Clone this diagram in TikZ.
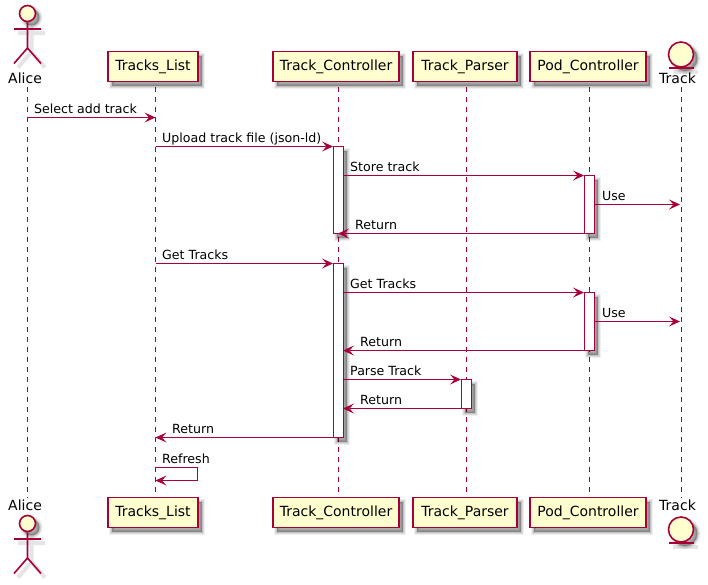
\documentclass[tikz,border=0pt]{standalone}
\usepackage{fontspec}
\setmainfont{DejaVu Sans}
\usetikzlibrary{arrows.meta}
\definecolor{pline}{HTML}{A80036}
\definecolor{pfill}{HTML}{FEFECE}
\tikzset{
  softshadow/.style={
    preaction={draw=black,fill=black,opacity=.06,line width=6pt,transform canvas={xshift=4pt,yshift=-4pt}},
    preaction={draw=black,fill=black,opacity=.09,line width=4pt,transform canvas={xshift=4pt,yshift=-4pt}},
    preaction={draw=black,fill=black,opacity=.10,line width=2pt,transform canvas={xshift=4pt,yshift=-4pt}},
    preaction={fill=black,opacity=.12,transform canvas={xshift=4pt,yshift=-4pt}}},
  limbshadow/.style={draw=black,opacity=.10,line width=4pt,transform canvas={xshift=4pt,yshift=-4pt}},
  box/.style={draw=pline,fill=pfill,line width=1.6pt,inner sep=0pt,minimum height=30pt,font=\fontsize{14}{16}\selectfont,softshadow},
  actbar/.style={draw=pline,fill=white,line width=1pt,inner sep=0pt,minimum width=10pt,softshadow},
  lifeline/.style={draw=pline,line width=1pt,dash pattern=on 5pt off 5pt},
  msg/.style={draw=pline,line width=1pt,-{Stealth[length=11pt,width=10pt,inset=4.5pt,fill=pline,line width=0pt]}},
  msglabel/.style={anchor=base west,inner sep=0pt,font=\fontsize{12.6}{15}\selectfont},
  caption/.style={anchor=base west,inner sep=0pt,font=\fontsize{14}{16}\selectfont},
  limb/.style={draw=pline,line width=1.6pt},
  head/.style={circle,draw=pline,fill=pfill,line width=1.6pt,inner sep=0pt,softshadow},
}
\newcommand{\stickman}[2]{%
  \node[head,minimum size=16pt] (#1head) at (27.5,#2) {};
  \coordinate (#1hip) at (27.5,#2+34.5);
  \coordinate (#1la) at (14,#2+15.5);
  \coordinate (#1ra) at (41,#2+15.5);
  \coordinate (#1ll) at (14,#2+50);
  \coordinate (#1rl) at (41,#2+50);
  \path[limbshadow] (#1head.south) -- (#1hip) (#1la) -- (#1ra) (#1hip) -- (#1ll) (#1hip) -- (#1rl);
  \draw[limb] (#1head.south) -- (#1hip) (#1la) -- (#1ra) (#1hip) -- (#1ll) (#1hip) -- (#1rl);
}
\begin{document}
\begin{tikzpicture}[x=1pt,y=-1pt]
\useasboundingbox (0,0) rectangle (708,584);
% lifelines
\foreach \n/\x in {alice/27.5,list/155.5,ctrl/338,parser/466,pod/589,track/681}{
  \coordinate (\n top) at (\x,86.5);
  \coordinate (\n bot) at (\x,497);
  \draw[lifeline] (\n top) -- (\n bot);
}
% participants
\node[box,minimum width=90pt] (listT) at (153,66.5) {Tracks\_List};
\node[box,minimum width=126pt] (ctrlT) at (336,66.5) {Track\_Controller};
\node[box,minimum width=104pt] (parserT) at (465,66.5) {Track\_Parser};
\node[box,minimum width=116pt] (podT) at (588,66.5) {Pod\_Controller};
\node[box,minimum width=90pt] (listB) at (153,512.5) {Tracks\_List};
\node[box,minimum width=126pt] (ctrlB) at (336,512.5) {Track\_Controller};
\node[box,minimum width=104pt] (parserB) at (465,512.5) {Track\_Parser};
\node[box,minimum width=116pt] (podB) at (588,512.5) {Pod\_Controller};
% Alice
\stickman{t}{13.5}
\stickman{b}{523.5}
\node[caption] (aliceT) at (8,83) {Alice};
\node[caption] (aliceB) at (8,510) {Alice};
% Track entity
\node[head,minimum size=25pt] (trackT) at (681,54.5) {};
\coordinate (tul) at (669,68); \coordinate (tur) at (694,68);
\path[limbshadow] (tul) -- (tur);
\draw[limb] (tul) -- (tur);
\node[caption] (trackTL) at (659,83) {Track};
\node[head,minimum size=25pt] (trackB) at (681,529.5) {};
\coordinate (bul) at (669,543); \coordinate (bur) at (694,543);
\path[limbshadow] (bul) -- (bur);
\draw[limb] (bul) -- (bur);
\node[caption] (trackBL) at (659,510) {Track};
% activations
\node[actbar,minimum height=87pt] (a1) at (338,190) {};
\node[actbar,minimum height=58pt] (a2) at (589,204.5) {};
\node[actbar,minimum height=174pt] (a3) at (338,350.5) {};
\node[actbar,minimum height=58pt] (a4) at (589,321.5) {};
\node[actbar,minimum height=29pt] (a5) at (466,394) {};
% message end points
\foreach \n/\x/\y in {m1a/27.5/117.5,m1b/155.5/117.5,m2a/155.5/146.5,m2b/333/146.5,
  m3a/343/175.5,m3b/584/175.5,m4a/594/204.5,m4b/680/204.5,m5a/584/233.5,m5b/338/233.5,
  m6a/155.5/263.5,m6b/333/263.5,m7a/343/292.5,m7b/584/292.5,m8a/594/321.5,m8b/680/321.5,
  m9a/584/350.5,m9b/343/350.5,m10a/343/379.5,m10b/461/379.5,m11a/461/408.5,m11b/343/408.5,
  m12a/333/437.5,m12b/155.5/437.5,m13a/155.5/467.5,m13b/197.5/467.5,m13c/197.5/480.5,m13d/155.5/480.5}{
  \coordinate (\n) at (\x,\y);
}
% messages
\draw[msg] (m1a) -- (m1b);
\draw[msg] (m2a) -- (m2b);
\draw[msg] (m3a) -- (m3b);
\draw[msg] (m4a) -- (m4b);
\draw[msg] (m5a) -- (m5b);
\draw[msg] (m6a) -- (m6b);
\draw[msg] (m7a) -- (m7b);
\draw[msg] (m8a) -- (m8b);
\draw[msg] (m9a) -- (m9b);
\draw[msg] (m10a) -- (m10b);
\draw[msg] (m11a) -- (m11b);
\draw[msg] (m12a) -- (m12b);
\draw[msg] (m13a) -- (m13b) -- (m13c) -- (m13d);
% labels
\node[msglabel] (l1) at (34,113) {Select add track};
\node[msglabel] (l2) at (162,142) {Upload track file (json-ld)};
\node[msglabel] (l3) at (350,171) {Store track};
\node[msglabel] (l4) at (602,200) {Use};
\node[msglabel] (l5) at (355,229) {Return};
\node[msglabel] (l6) at (162,259) {Get Tracks};
\node[msglabel] (l7) at (350,288) {Get Tracks};
\node[msglabel] (l8) at (602,317) {Use};
\node[msglabel] (l9) at (360,346) {Return};
\node[msglabel] (l10) at (350,375) {Parse Track};
\node[msglabel] (l11) at (360,404) {Return};
\node[msglabel] (l12) at (172,433) {Return};
\node[msglabel] (l13) at (162,463) {Refresh};
\end{tikzpicture}
\end{document}
